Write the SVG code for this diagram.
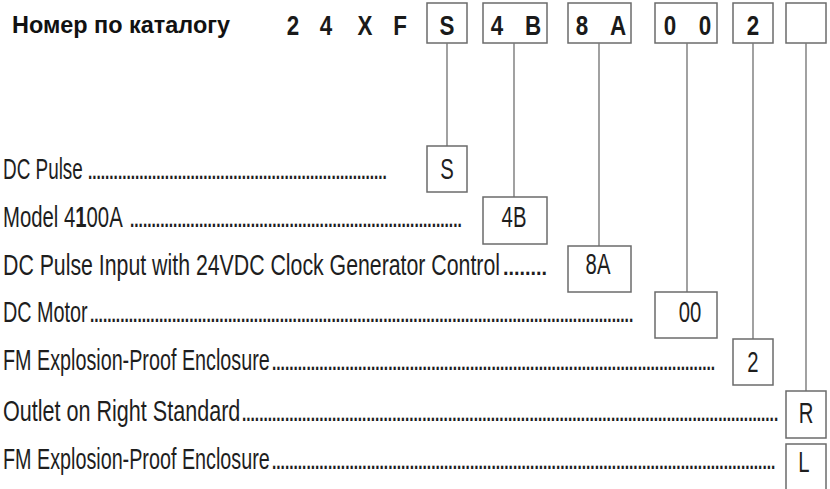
<svg xmlns="http://www.w3.org/2000/svg" width="830" height="489" viewBox="0 0 830 489">
<style>
.bg{fill:#ffffff}
.box{fill:#ffffff;stroke:#6b6b6b;stroke-width:1.5}
.conn{stroke:#7a7a7a;stroke-width:1.4;fill:none}
.title{font-family:"Liberation Sans",Arial,sans-serif;font-weight:bold;font-size:23px;fill:#111}
.code{font-family:"Liberation Sans",Arial,sans-serif;font-weight:bold;font-size:28px;fill:#1a1a1a;text-anchor:middle}
.lbl{font-family:"Liberation Sans",Arial,sans-serif;font-size:29px;fill:#1e1e1e}
.dots{font-family:"Liberation Sans",Arial,sans-serif;font-weight:bold;font-size:22px;fill:#1e1e1e}
.opt{font-family:"Liberation Sans",Arial,sans-serif;font-size:29px;fill:#1e1e1e;text-anchor:middle}
</style>
<rect class="bg" x="0" y="0" width="830" height="489"/>

<g id="title">
<text class="title" x="12" y="33" textLength="218" lengthAdjust="spacingAndGlyphs">Номер по каталогу</text>
</g>

<g id="code-prefix">
<text class="code" transform="translate(293,35) scale(0.8,1)">2</text>
<text class="code" transform="translate(326,35) scale(0.8,1)">4</text>
<text class="code" transform="translate(365,35) scale(0.8,1)">X</text>
<text class="code" transform="translate(400,35) scale(0.8,1)">F</text>
</g>

<g id="top-S">
<rect class="box" x="427" y="3" width="40" height="40"/>
<text class="code" transform="translate(447,35) scale(0.8,1)">S</text>
</g>
<g id="top-4B">
<rect class="box" x="483" y="3" width="64" height="40"/>
<text class="code" transform="translate(497,35) scale(0.8,1)">4</text>
<text class="code" transform="translate(533,35) scale(0.8,1)">B</text>
</g>
<g id="top-8A">
<rect class="box" x="568" y="3" width="63" height="40"/>
<text class="code" transform="translate(582,35) scale(0.8,1)">8</text>
<text class="code" transform="translate(618,35) scale(0.8,1)">A</text>
</g>
<g id="top-00">
<rect class="box" x="655" y="3" width="62" height="40"/>
<text class="code" transform="translate(670,35) scale(0.8,1)">0</text>
<text class="code" transform="translate(705,35) scale(0.8,1)">0</text>
</g>
<g id="top-2">
<rect class="box" x="733" y="3" width="40" height="40"/>
<text class="code" transform="translate(753,35) scale(0.8,1)">2</text>
</g>
<g id="top-blank">
<rect class="box" x="786" y="3" width="40" height="40"/>
</g>

<g id="connectors">
<line class="conn" x1="447" y1="43" x2="447" y2="146"/>
<line class="conn" x1="514" y1="43" x2="514" y2="197"/>
<line class="conn" x1="599" y1="43" x2="599" y2="246"/>
<line class="conn" x1="687" y1="43" x2="687" y2="292"/>
<line class="conn" x1="753" y1="43" x2="753" y2="339"/>
<line class="conn" x1="806" y1="43" x2="806" y2="391"/>
</g>

<g id="opt-S">
<text class="lbl" transform="translate(3,179) scale(0.7,1)" textLength="114" lengthAdjust="spacingAndGlyphs">DC Pulse</text>
<text class="dots" transform="translate(88,179) scale(0.7,1)" textLength="427" lengthAdjust="spacingAndGlyphs">......................................................................</text>
<rect class="box" x="427" y="146" width="40" height="46"/>
<text class="opt" transform="translate(447,179) scale(0.7,1)">S</text>
</g>

<g id="opt-4B">
<text class="lbl" transform="translate(3,227) scale(0.7,1)" textLength="171" lengthAdjust="spacingAndGlyphs">Model 4<tspan font-weight="bold">1</tspan>00A</text>
<text class="dots" transform="translate(130,227) scale(0.7,1)" textLength="474" lengthAdjust="spacingAndGlyphs">.............................................................................</text>
<rect class="box" x="483" y="197" width="64" height="47"/>
<text class="opt" transform="translate(514,227) scale(0.7,1)">4B</text>
</g>

<g id="opt-8A">
<text class="lbl" transform="translate(3,275) scale(0.7,1)" textLength="710" lengthAdjust="spacingAndGlyphs">DC Pulse Input with 24VDC Clock Generator Control</text>
<text class="dots" transform="translate(503,275) scale(0.7,1)" textLength="63" lengthAdjust="spacingAndGlyphs">........</text>
<rect class="box" x="568" y="246" width="63" height="46"/>
<text class="opt" transform="translate(598,274) scale(0.7,1)">8A</text>
</g>

<g id="opt-00">
<text class="lbl" transform="translate(3,322) scale(0.7,1)" textLength="121" lengthAdjust="spacingAndGlyphs">DC Motor</text>
<text class="dots" transform="translate(90,322) scale(0.7,1)" textLength="776" lengthAdjust="spacingAndGlyphs">..............................................................................................................................</text>
<rect class="box" x="655" y="292" width="62" height="46"/>
<text class="opt" transform="translate(690,322) scale(0.7,1)">00</text>
</g>

<g id="opt-2">
<text class="lbl" transform="translate(3,370) scale(0.7,1)" textLength="381" lengthAdjust="spacingAndGlyphs">FM Explosion-Proof Enclosure</text>
<text class="dots" transform="translate(272,370) scale(0.7,1)" textLength="633" lengthAdjust="spacingAndGlyphs">.......................................................................................................</text>
<rect class="box" x="733" y="339" width="40" height="46"/>
<text class="opt" transform="translate(753,372) scale(0.7,1)">2</text>
</g>

<g id="opt-R">
<text class="lbl" transform="translate(3,421) scale(0.7,1)" textLength="339" lengthAdjust="spacingAndGlyphs">Outlet on Right Standard</text>
<text class="dots" transform="translate(242,421) scale(0.7,1)" textLength="766" lengthAdjust="spacingAndGlyphs">.............................................................................................................................</text>
<rect class="box" x="786" y="391" width="40" height="47"/>
<text class="opt" transform="translate(806,423) scale(0.7,1)">R</text>
</g>

<g id="opt-L">
<text class="lbl" transform="translate(3,469) scale(0.7,1)" textLength="381" lengthAdjust="spacingAndGlyphs">FM Explosion-Proof Enclosure</text>
<text class="dots" transform="translate(272,469) scale(0.7,1)" textLength="719" lengthAdjust="spacingAndGlyphs">.....................................................................................................................</text>
<rect class="box" x="786" y="444" width="40" height="50"/>
<text class="opt" transform="translate(804,472) scale(0.7,1)">L</text>
</g>
</svg>
